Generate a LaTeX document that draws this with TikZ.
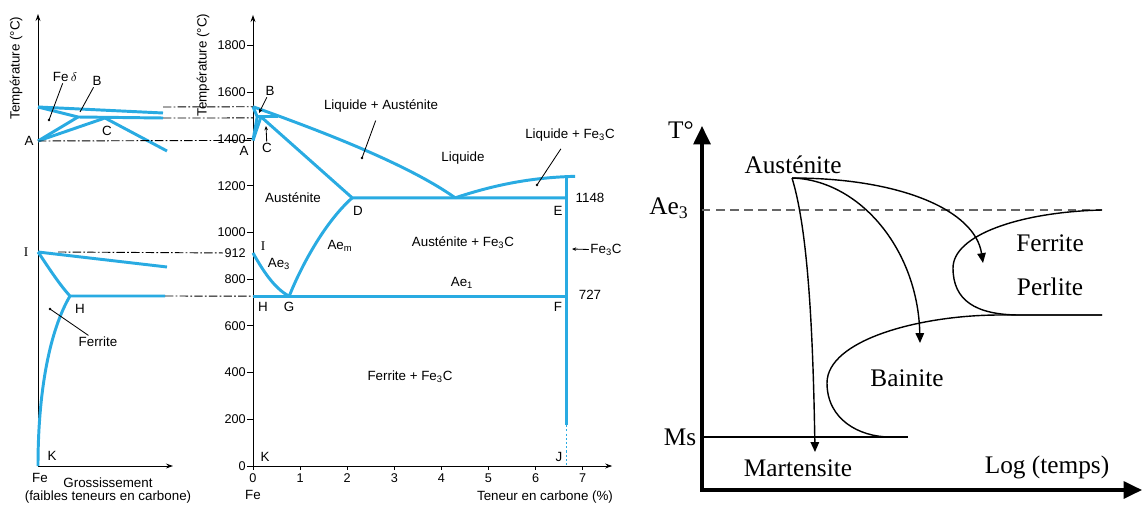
\documentclass[tikz,border=0pt]{standalone}
\usepackage{fontspec}
\setmainfont{Liberation Sans}
\newfontfamily\timesfont{Liberation Serif}
\usetikzlibrary{arrows.meta,positioning,calc}
\definecolor{phaseblue}{RGB}{41,171,226}

\begin{document}
\begin{tikzpicture}[
  x=0.025cm, y=-0.025cm,
  phase/.style={draw=phaseblue, line width=2.1pt, line join=round},
  guide/.style={line width=0.65pt, dash pattern=on 6pt off 1.6pt on 1.2pt off 1.6pt},
  axe/.style={line width=0.7pt},
  leader/.style={line width=0.6pt},
  lab/.style={font=\fontsize{9.5}{11}\selectfont, inner sep=1pt},
  ticklab/.style={font=\fontsize{9}{10}\selectfont, inner sep=1pt},
  ttt/.style={font=\timesfont\fontsize{18}{20}\selectfont, inner sep=1pt},
  ttcurve/.style={line width=1pt, -{Triangle[length=7pt,width=6pt]}}
]
\useasboundingbox (0,0) rectangle (1142,505);

% diagramme agrandi (gauche)
\coordinate (gO) at (38,466);
\coordinate (gYend) at (38,14);
\coordinate (gXend) at (173,466);
\coordinate (gTop) at (38,107);
\coordinate (gA) at (38,141);
\coordinate (gB) at (78,117);
\coordinate (gC) at (105,118);
\coordinate (gI) at (38,252);
\coordinate (gH) at (70,296);
\coordinate (gK) at (38,466);
\coordinate (gTopEnd) at (163,113);
\coordinate (gBEnd) at (163,118);
\coordinate (gCEnd) at (167,151);
\coordinate (gIEnd) at (167,267);
\coordinate (gHEnd) at (165,296);

\draw[axe, -{Stealth[length=5pt,width=3.5pt]}] (gO) -- (gYend);
\draw[axe, -{Stealth[length=5pt,width=3.5pt]}] (gO) -- (gXend);

\draw[phase] (gTop) -- (gTopEnd);
\draw[phase] (gTop) -- (gB) -- (gBEnd);
\draw[phase] (gA) -- (gB);
\draw[phase] (gA) -- (gC) -- (gCEnd);
\draw[phase] (gI) -- (gIEnd);
\draw[phase] (gI) .. controls (45,262) and (58,283) .. (gH) -- (gHEnd);
\draw[phase] (gH) .. controls (50,330) and (38,390) .. (gK);

\node[lab] (gFed) at (65,77) {Fe\,$\delta$};
\coordinate (gFedPt) at (49,120);
\draw[leader] (gFed) -- (gFedPt);
\fill (gFedPt) circle[radius=1pt];
\node[lab] (gBl) at (97,81) {B};
\coordinate (gBPt) at (80,112);
\draw[leader] (gBl) -- (gBPt);
\node[lab] (gCl) at (107,131) {C};
\node[lab] (gAl) at (29,141) {A};
\node[lab] (gIl) at (26,252) {\timesfont I};
\node[lab] (gHl) at (80,309) {H};
\node[lab] (gFerr) at (98,342) {Ferrite};
\coordinate (gFerrPt) at (50,309);
\draw[leader] (gFerr) -- (gFerrPt);
\fill (gFerrPt) circle[radius=1pt];
\node[lab] (gKl) at (52,456) {K};
\node[lab] (gFe) at (40,478) {Fe};
\node[lab] (gGross) at (108,483) {Grossissement};
\node[lab] (gFaible) at (108,497) {(faibles teneurs en carbone)};
\node[lab, rotate=90] (gTemp) at (16,68) {Température (°C)};

% diagramme fer-carbone (milieu)
\begin{scope}[shift={(253,466)}, xscale=47.1, yscale=-0.2336]
  \coordinate (mO) at (0,0);
  \coordinate (mYend) at (0,1931);
  \coordinate (mXend) at (7.64,0);
  \coordinate (mTop) at (0,1538);
  \coordinate (mA) at (0,1394);
  \coordinate (mBlev) at (0,1490);
  \coordinate (mB) at (0.09,1495);
  \coordinate (mC) at (0.17,1495);
  \coordinate (mP) at (0.53,1495);
  \coordinate (mD) at (2.11,1148);
  \coordinate (mEu) at (4.3,1148);
  \coordinate (mE) at (6.67,1148);
  \coordinate (mEl) at (6.67,1237);
  \coordinate (mL) at (6.85,1240);
  \coordinate (mI) at (0,912);
  \coordinate (mG) at (0.77,727);
  \coordinate (mH) at (0,727);
  \coordinate (mF) at (6.67,727);
  \coordinate (mJs) at (6.67,175);
  \coordinate (mJ) at (6.67,0);

  \draw[axe, -{Stealth[length=5pt,width=3.5pt]}] (mO) -- (mYend);
  \draw[axe, -{Stealth[length=5pt,width=3.5pt]}] (mO) -- (mXend);
  \foreach \t in {0,200,...,1800}{
    \draw[axe] (0,\t) -- (-0.12,\t);
    \node[ticklab, left] (mT\t) at (-0.12,\t) {\t};
  }
  \node[ticklab, left] (mT912) at (-0.12,912) {912};
  \foreach \c in {0,...,7}{
    \draw[axe] (\c,0) -- (\c,-17);
    \node[ticklab, below] (mC\c) at (\c,-26) {\c};
  }

  \draw[phase] (mTop) -- (mB);
  \draw[phase] (mA) -- (mB);
  \draw[phase] (mA) -- (mC);
  \draw[phase] (mB) -- (mP);
  \draw[phase] (mTop) .. controls (1.5,1430) and (3.3,1290) .. (mEu);
  \draw[phase] (mEu) .. controls (5.0,1195) and (5.8,1235) .. (mL);
  \draw[phase] (mC) -- (mD) -- (mE);
  \draw[phase] (mD) .. controls (1.45,1030) and (0.95,820) .. (mG);
  \draw[phase] (mI) .. controls (0.2,840) and (0.45,760) .. (mG);
  \draw[phase] (mH) -- (mF);
  \draw[phase] (mEl) -- (mJs);
  \draw[draw=phaseblue, line width=1.2pt, dash pattern=on 1.5pt off 1.5pt] (mJs) -- (mJ);
\end{scope}

% lignes de rappel
\draw[guide] (gTopEnd |- gTop) -- (mTop);
\draw[guide] (gBEnd) -- (mBlev);
\draw[guide] (gA) -- (mA);
\coordinate (gIg) at (58,252);
\draw[guide] (gIg) -- (mT912.west);
\draw[guide] (gHEnd) -- (mH);

\node[lab] (mBl) at (270,91) {B};
\coordinate (mBPt) at (259,113);
\draw[leader, -{Stealth[length=3pt,width=2.5pt]}] (mBl) -- (mBPt);
\node[lab] (mCl) at (267,148) {C};
\coordinate (mCPt) at (266,126);
\draw[leader, -{Stealth[length=3pt,width=2.5pt]}] (mCl) -- (mCPt);
\node[lab] (mAl) at (244,151) {A};
\node[lab] (mLA) at (381,106) {Liquide + Austénite};
\coordinate (mLAPt) at (362,158);
\draw[leader, shorten <=5pt] (mLA) -- (mLAPt);
\fill (mLAPt) circle[radius=1pt];
\node[lab] (mLiq) at (463,158) {Liquide};
\node[lab] (mLF) at (570,135) {Liquide + Fe\textsubscript{3}C};
\coordinate (mLFPt) at (537,185);
\draw[leader, shorten <=5pt] (mLF) -- (mLFPt);
\fill (mLFPt) circle[radius=1pt];
\node[lab] (mAus) at (293,198) {Austénite};
\node[lab] (mDl) at (358,211) {D};
\node[lab] (mEl2) at (558,211) {E};
\node[lab] (m1148) at (590,198) {1148};
\node[lab] (mAem) at (340,246) {Ae\textsubscript{m}};
\node[lab] (mAF) at (463,243) {Austénite + Fe\textsubscript{3}C};
\node[lab] (mFe3C) at (606,250) {Fe\textsubscript{3}C};
\coordinate (mFe3CPt) at (572,249);
\draw[leader, -{Stealth[length=3pt,width=2.5pt]}] (mFe3C) -- (mFe3CPt);
\node[lab] (mIl) at (263,246) {\timesfont I};
\node[lab] (mAe3) at (279,264) {Ae\textsubscript{3}};
\node[lab] (mAe1) at (462,283) {Ae\textsubscript{1}};
\node[lab] (m727) at (590,295) {727};
\node[lab] (mHl) at (263,307) {H};
\node[lab] (mGl) at (289,307) {G};
\node[lab] (mFl) at (558,307) {F};
\node[lab] (mFF) at (410,377) {Ferrite + Fe\textsubscript{3}C};
\node[lab] (mKl) at (265,457) {K};
\node[lab] (mJl) at (559,457) {J};
\node[lab] (mFe) at (253,495) {Fe};
\node[lab] (mTeneur) at (545,497) {Teneur en carbone (\%)};
\node[lab, rotate=90] (mTemp) at (203,65) {Température (°C)};

% courbe TRC (droite)
\coordinate (tO) at (702,490);
\coordinate (tYend) at (702,126);
\coordinate (tXend) at (1142,490);
\coordinate (tAe) at (702,210);
\coordinate (tAeEnd) at (1102,210);
\coordinate (tMs) at (702,437);
\coordinate (tMsEnd) at (908,437);
\coordinate (tPerl) at (1102,315);
\coordinate (tS) at (792,178);
\coordinate (tMart) at (815,452);
\coordinate (tBain) at (920,343);
\coordinate (tFerr) at (983,263);

\draw[line width=2.2pt, {Triangle[length=13pt,width=12pt]}-{Triangle[length=13pt,width=12pt]}] (tYend) -- (tO) -- (tXend);
\draw[line width=0.9pt, black!60, dash pattern=on 6pt off 4pt] (tAe) -- (tAeEnd);
\draw[line width=1pt] (tMs) -- (tMsEnd);
\draw[line width=1pt] (tAeEnd) .. controls (1020,212) and (953,235) .. (953,268)
  .. controls (953,300) and (975,315) .. (1020,315) -- (tPerl);
\draw[line width=1pt] (tPerl) -- (1000,315) .. controls (920,315) and (827,340) .. (827,383)
  .. controls (827,420) and (860,437) .. (890,437);
\draw[ttcurve] (tS) .. controls (808,230) and (813,330) .. (tMart);
\draw[ttcurve] (tS) .. controls (860,180) and (918,250) .. (tBain);
\draw[ttcurve] (tS) .. controls (900,178) and (975,210) .. (tFerr);

\node[ttt] (tT) at (681,130) {T°};
\node[ttt] (tAus) at (793,165) {Austénite};
\node[ttt] (tAe3) at (669,208) {Ae\textsubscript{3}};
\node[ttt] (tMsl) at (680,437) {Ms};
\node[ttt] (tMartl) at (798,468) {Martensite};
\node[ttt] (tLog) at (1047,467) {Log (temps)};
\node[ttt] (tFerrl) at (1050,243) {Ferrite};
\node[ttt] (tPerll) at (1050,287) {Perlite};
\node[ttt] (tBainl) at (907,378) {Bainite};

\end{tikzpicture}
\end{document}
